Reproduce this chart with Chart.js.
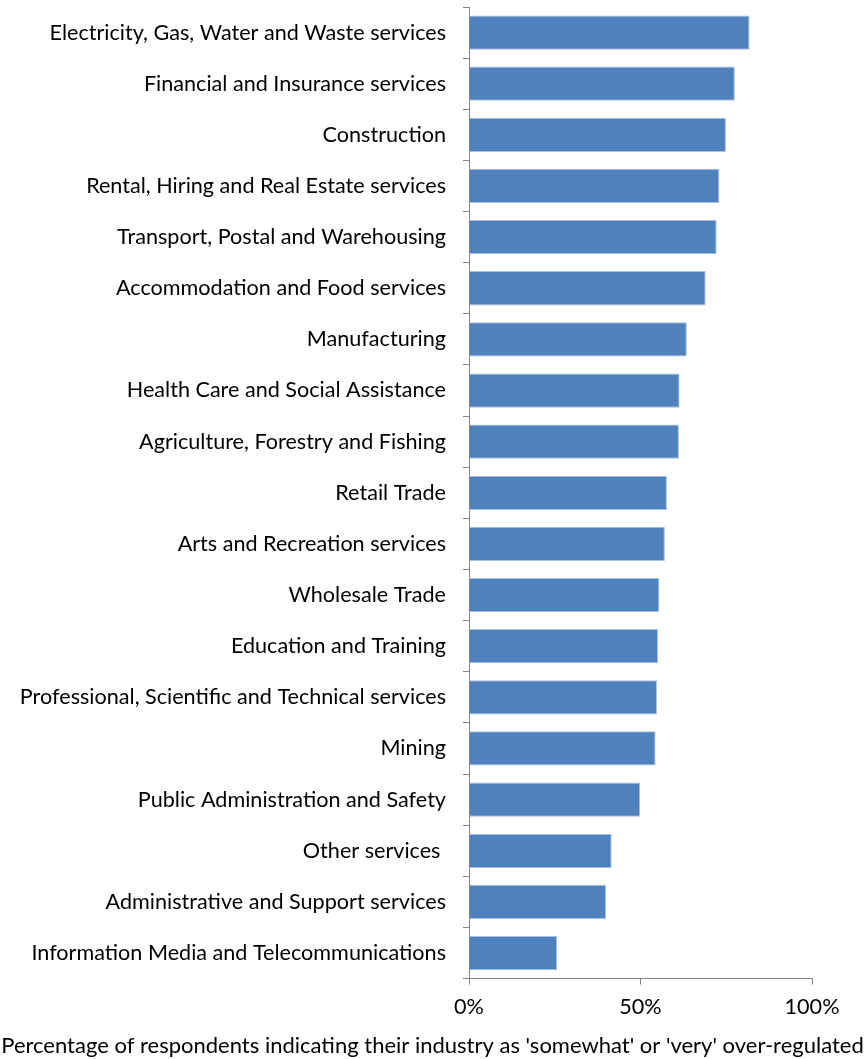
<!DOCTYPE html>
<html>
<head>
<meta charset="utf-8">
<script src="https://cdn.jsdelivr.net/npm/chart.js@4"></script>
<style>
  body { margin: 0; background: #fff; }
</style>
</head>
<body>
<canvas id="myChart" width="865" height="1059"></canvas>
<script>
const industries = [
  'Electricity, Gas, Water and Waste services',
  'Financial and Insurance services',
  'Construction',
  'Rental, Hiring and Real Estate services',
  'Transport, Postal and Warehousing',
  'Accommodation and Food services',
  'Manufacturing',
  'Health Care and Social Assistance',
  'Agriculture, Forestry and Fishing',
  'Retail Trade',
  'Arts and Recreation services',
  'Wholesale Trade',
  'Education and Training',
  'Professional, Scientific and Technical services',
  'Mining',
  'Public Administration and Safety',
  'Other services ',
  'Administrative and Support services',
  'Information Media and Telecommunications'
];
const overRegulated = [81.8, 77.5, 74.9, 73.0, 72.2, 69.0, 63.5, 61.4, 61.2, 57.7,
                       57.1, 55.5, 55.1, 54.8, 54.4, 49.9, 41.6, 40.0, 25.7];
const xTicks = [0, 50, 100];
const axisTitle = "Percentage of respondents indicating their industry as 'somewhat' or 'very' over-regulated";

const fontFamily = 'Lato, "Open Sans", sans-serif';
const fontSize = 21.6;
const axisGray = '#868686';

var ctx = document.getElementById('myChart');
var myChart = new Chart(ctx, {
  type: 'bar',
  data: {
    labels: industries,
    datasets: [{
      data: overRegulated,
      backgroundColor: '#4F81BD',
      borderColor: '#A9C0DE',
      borderWidth: 1,
      barPercentage: 0.67,
      categoryPercentage: 1
    }]
  },
  options: {
    indexAxis: 'y',
    responsive: false,
    animation: false,
    layout: { padding: { top: 7, right: 0, bottom: 0, left: 0 } },
    plugins: {
      legend: { display: false },
      tooltip: { enabled: false },
      title: {
        display: true,
        position: 'bottom',
        text: axisTitle,
        color: '#000',
        font: { family: fontFamily, size: 22, weight: 'normal' },
        padding: { top: 0, bottom: 0 }
      }
    },
    scales: {
      x: {
        min: 0,
        max: 100,
        afterBuildTicks: function(scale) {
          scale.ticks = xTicks.map(v => ({ value: v }));
        },
        afterFit: function(scale) {
          scale.height = 54;
          scale.paddingRight = 53;
        },
        grid: { drawOnChartArea: false, tickLength: 6, color: axisGray },
        border: { color: axisGray },
        ticks: {
          color: '#000',
          padding: 9,
          font: { family: fontFamily, size: fontSize },
          callback: v => v + '%'
        }
      },
      y: {
        afterFit: function(scale) {
          scale.width = 469;
          scale.paddingTop = 0;
          scale.paddingBottom = 0;
        },
        grid: { offset: true, drawOnChartArea: false, tickLength: 6, color: axisGray },
        border: { color: axisGray },
        ticks: {
          color: '#000',
          padding: 17,
          autoSkip: false,
          font: { family: fontFamily, size: fontSize }
        }
      }
    }
  }
});
</script>
</body>
</html>
